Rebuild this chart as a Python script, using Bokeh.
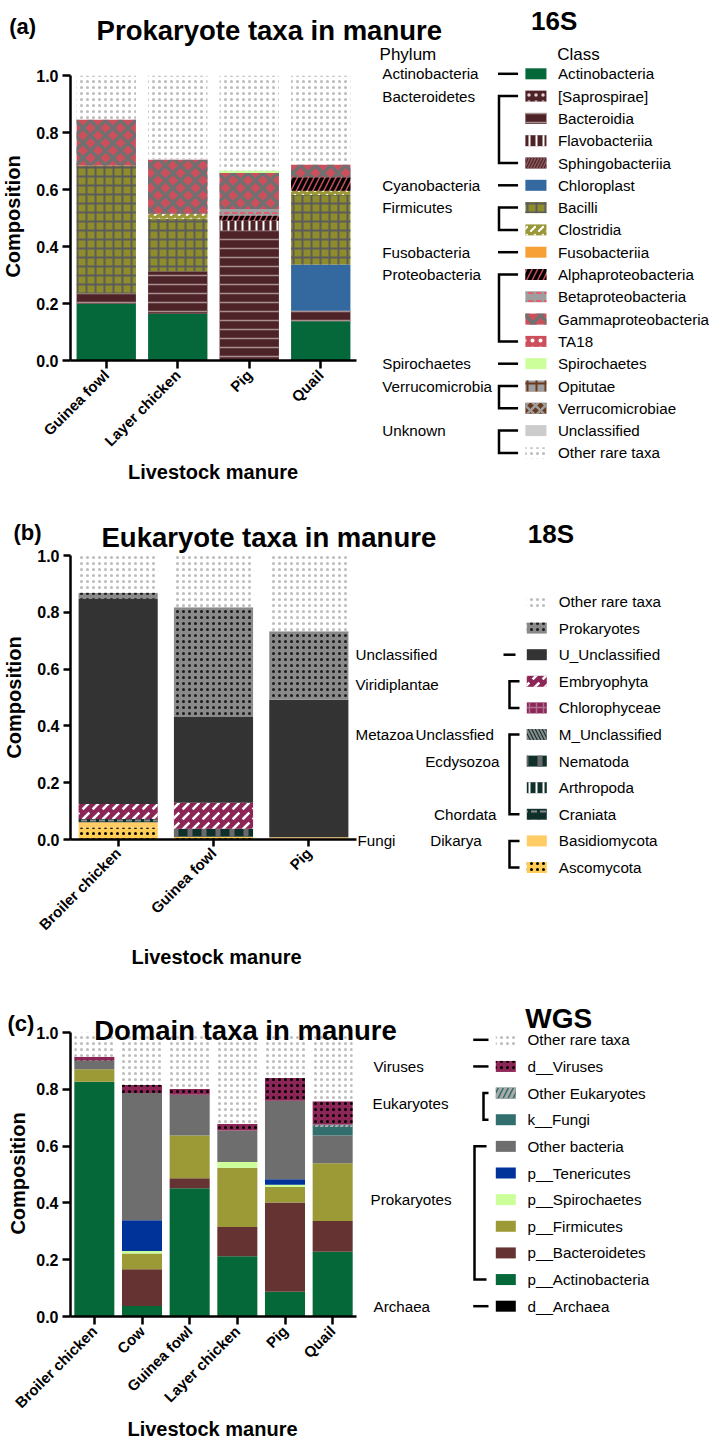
import math
from bokeh.plotting import figure
from bokeh.models import Range1d, ColumnDataSource, FixedTicker, PrintfTickFormatter, CustomJSTickFormatter
from bokeh.layouts import column
from bokeh.embed import file_html
from bokeh.resources import INLINE
from bokeh.core.properties import value

FONT = "Liberation Sans"

# ---------------- (a) 16S data ----------------
cats_a = ["Guinea fowl", "Layer chicken", "Pig", "Quail"]
taxa_a = ["Actinobacteria", "[Saprospirae]", "Bacteroidia", "Flavobacteriia", "Sphingobacteriia",
          "Chloroplast", "Bacilli", "Clostridia", "Fusobacteriia", "Alphaproteobacteria",
          "Betaproteobacteria", "Gammaproteobacteria", "TA18", "Spirochaetes", "Opitutae",
          "Verrucomicrobiae", "Unclassified", "Other rare taxa"]
guinea_fowl_16s = [0.199, 0, 0.037, 0, 0, 0, 0.448, 0, 0, 0, 0, 0.162, 0, 0, 0, 0, 0, 0.154]
layer_chicken_16s = [0.164, 0, 0.149, 0, 0, 0, 0.184, 0.018, 0, 0, 0, 0.190, 0, 0, 0, 0, 0, 0.295]
pig_16s = [0, 0, 0.456, 0.035, 0, 0, 0, 0, 0, 0.018, 0.023, 0.126, 0, 0.009, 0, 0, 0, 0.333]
quail_16s = [0.138, 0, 0.037, 0, 0, 0.162, 0.244, 0.015, 0, 0.047, 0, 0.045, 0, 0, 0, 0, 0, 0.312]
phyla_a = ["Actinobacteria", "Bacteroidetes", "Cyanobacteria", "Firmicutes", "Fusobacteria",
           "Proteobacteria", "Spirochaetes", "Verrucomicrobia", "Unknown"]
phyla_a_rows = [(0, 0), (1, 4), (5, 5), (6, 7), (8, 8), (9, 12), (13, 13), (14, 15), (16, 17)]

# ---------------- (b) 18S data ----------------
cats_b = ["Broiler chicken", "Guinea fowl", "Pig"]
taxa_b = ["Ascomycota", "Basidiomycota", "Craniata", "Arthropoda", "Nematoda", "M_Unclassified",
          "Chlorophyceae", "Embryophyta", "U_Unclassified", "Prokaryotes", "Other rare taxa"]
broiler_chicken_18s = [0.042, 0.019, 0.011, 0, 0, 0, 0, 0.053, 0.722, 0.022, 0.131]
guinea_fowl_18s = [0.010, 0, 0, 0, 0.028, 0, 0, 0.091, 0.302, 0.387, 0.182]
pig_18s = [0, 0.008, 0, 0, 0, 0, 0, 0, 0.484, 0.241, 0.267]

# ---------------- (c) WGS data ----------------
cats_c = ["Broiler chicken", "Cow", "Guinea fowl", "Layer chicken", "Pig", "Quail"]
taxa_c = ["d__Archaea", "p__Actinobacteria", "p__Bacteroidetes", "p__Firmicutes", "p__Spirochaetes",
          "p__Tenericutes", "Other bacteria", "k__Fungi", "Other Eukaryotes", "d__Viruses",
          "Other rare taxa"]
broiler_chicken_wgs = [0, 0.827, 0, 0.044, 0, 0, 0.030, 0, 0, 0.014, 0.085]
cow_wgs = [0, 0.037, 0.129, 0.056, 0.009, 0.108, 0.448, 0, 0, 0.028, 0.185]
guinea_fowl_wgs = [0, 0.452, 0.035, 0.150, 0, 0, 0.144, 0, 0, 0.020, 0.199]
layer_chicken_wgs = [0, 0.212, 0.103, 0.209, 0.020, 0, 0.111, 0, 0, 0.023, 0.322]
pig_wgs = [0, 0.087, 0.314, 0.055, 0.008, 0.019, 0.277, 0, 0, 0.080, 0.160]
quail_wgs = [0, 0.228, 0.108, 0.204, 0, 0, 0.097, 0.030, 0.009, 0.082, 0.242]

y_ticks = [0.0, 0.2, 0.4, 0.6, 0.8, 1.0]
y_title = "Composition"
x_title = "Livestock manure"


# ---------------- styles ----------------
def S(fill, hatch=None, hc="#ffffff", scale=8, weight=1.5):
    d = dict(fill_color=fill)
    if hatch:
        d.update(hatch_pattern=hatch, hatch_color=hc, hatch_scale=scale, hatch_weight=weight)
    return d

BROWN = "#4d2328"
OLIVE = "#8f8c2c"
PINK = "#cc4f5c"
MAG = "#8b2657"
DKG = "#10302b"
RARE = S("#ffffff", ".", "#bbbbbb", 6, 1)

styles_a = {
    "Actinobacteria": S("#05683a"),
    "[Saprospirae]": S(BROWN, ".", "#e8d0d0", 7, 1),
    "Bacteroidia": S(BROWN, "-", "#a89090", 9, 1.5),
    "Flavobacteriia": S(BROWN, "|", "#ffffff", 7, 2),
    "Sphingobacteriia": S(BROWN, "/", "#8a5a5a", 6, 1.5),
    "Chloroplast": S("#34699f"),
    "Bacilli": S(OLIVE, "+", "#5c5c5c", 9, 2),
    "Clostridia": S("#9a9838", ",", "#ffffff", 8, 2),
    "Fusobacteriia": S("#f7a035"),
    "Alphaproteobacteria": S(PINK, "/", "#000000", 11, 3.5),
    "Betaproteobacteria": S("#9e9e9e", '"', "#e06070", 8, 2),
    "Gammaproteobacteria": S(PINK, "x", "#707070", 15, 3.5),
    "TA18": S(PINK, ".", "#ffffff", 8, 1),
    "Spirochaetes": S("#ccff99"),
    "Opitutae": S("#9e9e9e", "+", "#6b3a1e", 9, 2),
    "Verrucomicrobiae": S("#6b3a1e", "x", "#9e9e9e", 10, 2.5),
    "Unclassified": S("#cccccc"),
    "Other rare taxa": RARE,
}
styles_b = {
    "Other rare taxa": RARE,
    "Prokaryotes": S("#8a8a8a", ".", "#1a1a1a", 6, 1),
    "U_Unclassified": S("#333333"),
    "Embryophyta": S(MAG, ",", "#ffffff", 10, 2.5),
    "Chlorophyceae": S(MAG, "+", "#b07090", 7, 1.5),
    "M_Unclassified": S(DKG, "\\", "#8a8a8a", 7, 2),
    "Nematoda": S(DKG, "|", "#6a6a6a", 14, 5),
    "Arthropoda": S(DKG, "|", "#ffffff", 7, 2),
    "Craniata": S(DKG, '"', "#8a8a8a", 9, 2),
    "Basidiomycota": S("#ffcc66"),
    "Ascomycota": S("#ffcc55", ".", "#000000", 6, 1),
}
styles_c = {
    "Other rare taxa": RARE,
    "d__Viruses": S(MAG, ".", "#000000", 6, 1),
    "Other Eukaryotes": S("#336b6b", "/", "#aaaaaa", 10, 3),
    "k__Fungi": S("#336e6e"),
    "Other bacteria": S("#6e6e6e"),
    "p__Tenericutes": S("#003399"),
    "p__Spirochaetes": S("#ccff99"),
    "p__Firmicutes": S("#9c9a36"),
    "p__Bacteroidetes": S("#663333"),
    "p__Actinobacteria": S("#056838"),
    "d__Archaea": S("#000000"),
}

OV = dict(x_range_name="px", y_range_name="py", level="overlay")
W = 709
INSET = 3  # the frame sits this far inside the horizontal borders


def base_fig(cats, top, height, fl, fr, ft, fb, tick_out, xfont="15px"):
    n = len(cats)
    p = figure(width=W, height=height, x_range=Range1d(0, n), y_range=Range1d(0, 1),
               output_backend="svg", toolbar_location=None,
               min_border_left=fl - INSET, min_border_right=W - fr - INSET,
               min_border_top=ft - top, min_border_bottom=top + height - fb)
    p.extra_x_ranges = {"px": Range1d(fl, fr)}
    p.extra_y_ranges = {"py": Range1d(fb, ft)}
    p.xgrid.visible = False
    p.ygrid.visible = False
    p.outline_line_color = None
    p.background_fill_color = "white"
    p.border_fill_color = "white"
    for ax in (p.xaxis[0], p.yaxis[0]):
        ax.axis_line_width = 2.5
        ax.axis_line_color = "black"
        ax.major_tick_line_width = 2.5
        ax.major_tick_line_color = "black"
        ax.major_tick_out = tick_out
        ax.major_tick_in = 0
        ax.minor_tick_line_color = None
        ax.major_label_text_font = FONT
        ax.major_label_text_font_style = "bold"
        ax.major_label_text_color = "black"
    p.yaxis[0].major_label_text_font_size = "16px"
    p.xaxis[0].major_label_text_font_size = xfont
    p.yaxis[0].ticker = FixedTicker(ticks=y_ticks)
    p.yaxis[0].formatter = PrintfTickFormatter(format="%.1f")
    p.xaxis[0].ticker = FixedTicker(ticks=[i + 0.5 for i in range(n)])
    p.xaxis[0].formatter = CustomJSTickFormatter(args=dict(cats=cats),
                                                 code="return cats[Math.floor(tick)]")
    p.yaxis[0].major_label_standoff = 4
    p.xaxis[0].major_label_standoff = 4
    p.xaxis[0].major_label_orientation = math.pi / 4
    return p


def draw_stack(p, cats, taxa, rows, styles, width):
    xs = [i + 0.5 for i in range(len(cats))]
    bottoms = [0.0] * len(cats)
    for j, t in enumerate(taxa):
        vals = [r[j] for r in rows]
        tops = [b + v for b, v in zip(bottoms, vals)]
        src = ColumnDataSource(dict(x=xs, cat=cats, bottom=bottoms, top=tops))
        p.vbar(x="x", bottom="bottom", top="top", width=width, source=src, line_color=None, **styles[t])
        bottoms = tops


def otext(p, xs, ys, texts, size="15px", align="left", style="normal", baseline="middle", angle=0):
    p.text(x=xs, y=ys, text=texts, text_font=value(FONT), text_font_size=value(size),
           text_font_style=value(style), text_align=value(align), text_baseline=value(baseline),
           angle=angle, text_color="black", **OV)


def axis_titles(p, yx, yy, xx, xy):
    otext(p, [yx], [yy], [y_title], "20px", align="center", style="bold", angle=math.pi / 2)
    otext(p, [xx], [xy], [x_title], "20px", align="center", style="bold")


def swatches(p, names, ys, styles, x0, x1, h):
    for n, y in zip(names, ys):
        p.quad(left=[x0], right=[x1], top=[y - h / 2], bottom=[y + h / 2], line_color=None,
               **styles[n], **OV)


def dash(p, x0, x1, y):
    p.multi_line(xs=[[x0, x1]], ys=[[y, y]], line_color="black", line_width=2.5, **OV)


def bracket(p, xv, xt, y0, y1):
    p.multi_line(xs=[[xt, xv, xv, xt]], ys=[[y0, y0, y1, y1]], line_color="black",
                 line_width=2.5, line_join="miter", **OV)


LEG = "15.2px"

# ================= panel (a) =================
pa = base_fig(cats_a, 0, 500, 71, 356, 75, 360, 8)
draw_stack(pa, cats_a, taxa_a, [guinea_fowl_16s, layer_chicken_16s, pig_16s, quail_16s], styles_a, 0.83)
axis_titles(pa, 14, 216, 213, 471)
otext(pa, [10], [26], ["(a)"], "22px", style="bold", baseline="alphabetic")
otext(pa, [97], [30], ["Prokaryote taxa in manure"], "27.5px", style="bold", baseline="alphabetic")
otext(pa, [530], [20], ["16S"], "26px", style="bold", baseline="alphabetic")
otext(pa, [379, 556], [54, 54], ["Phylum", "Class"], "17px")
ya = [73.3 + 22.3 * i for i in range(len(taxa_a))]
swatches(pa, taxa_a, ya, styles_a, 524.3, 545.3, 11)
otext(pa, [556.7] * len(taxa_a), ya, taxa_a, LEG)
otext(pa, [381.7] * len(phyla_a), [ya[r[0]] for r in phyla_a_rows], phyla_a, LEG)
for r0, r1 in phyla_a_rows:
    if r0 == r1:
        dash(pa, 497, 517, ya[r0])
    else:
        bracket(pa, 498, 517, ya[r0], ya[r1])

# ================= panel (b) =================
pb = base_fig(cats_b, 500, 492, 67, 353, 555, 839, 7)
draw_stack(pb, cats_b, taxa_b, [broiler_chicken_18s, guinea_fowl_18s, pig_18s], styles_b, 0.83)
axis_titles(pb, 10, 697, 213, 956)
otext(pb, [10], [532], ["(b)"], "22px", style="bold", baseline="alphabetic")
otext(pb, [98], [537], ["Eukaryote taxa in manure"], "27.5px", style="bold", baseline="alphabetic")
otext(pb, [524.3], [533], ["18S"], "26px", style="bold", baseline="alphabetic")
leg_b = list(reversed(taxa_b))
yb = [601 + 26.6 * i for i in range(len(leg_b))]
swatches(pb, leg_b, yb, styles_b, 523.3, 543.3, 11)
otext(pb, [555.3] * len(leg_b), yb, leg_b, LEG)
dash(pb, 500, 512, yb[2])
bracket(pb, 506, 516, yb[3], yb[4])
bracket(pb, 506, 516, yb[5], yb[8])
bracket(pb, 506, 516, yb[9], yb[10])
otext(pb, [352, 352, 352, 412, 354, 426.7], [yb[2], 684, yb[5], yb[5], yb[9], yb[9]],
      ["Unclassified", "Viridiplantae", "Metazoa", "Unclassfied", "Fungi", "Dikarya"], LEG)
otext(pb, [496, 493], [yb[6], yb[8]], ["Ecdysozoa", "Chordata"], LEG, align="right")

# ================= panel (c) =================
pc = base_fig(cats_c, 992, 449, 73, 359, 1032, 1316, 8)
draw_stack(pc, cats_c, taxa_c, [broiler_chicken_wgs, cow_wgs, guinea_fowl_wgs, layer_chicken_wgs,
                                pig_wgs, quail_wgs], styles_c, 0.84)
axis_titles(pc, 20, 1173, 215, 1428)
otext(pc, [10], [1023], ["(c)"], "22px", style="bold", baseline="alphabetic")
otext(pc, [96.7], [1030], ["Domain taxa in manure"], "27.5px", style="bold", baseline="alphabetic")
otext(pc, [527.7], [1018], ["WGS"], "28px", style="bold", baseline="alphabetic")
leg_c = list(reversed(taxa_c))
yc = [1039.3 + 26.64 * i for i in range(len(leg_c))]
swatches(pc, leg_c, yc, styles_c, 498.3, 518.3, 11)
otext(pc, [530] * len(leg_c), yc, leg_c, LEG)
dash(pc, 475.7, 491, yc[0])
dash(pc, 475.7, 491, yc[1])
dash(pc, 475.7, 491, yc[10])
bracket(pc, 486, 491, yc[2], yc[3])
bracket(pc, 477, 489, yc[4], yc[9])
otext(pc, [376, 375, 373, 376], [yc[1], 1103, yc[6], yc[10]],
      ["Viruses", "Eukaryotes", "Prokaryotes", "Archaea"], LEG)

layout = column(pa, pb, pc)
open("out.html", "w").write(file_html(layout, INLINE))
